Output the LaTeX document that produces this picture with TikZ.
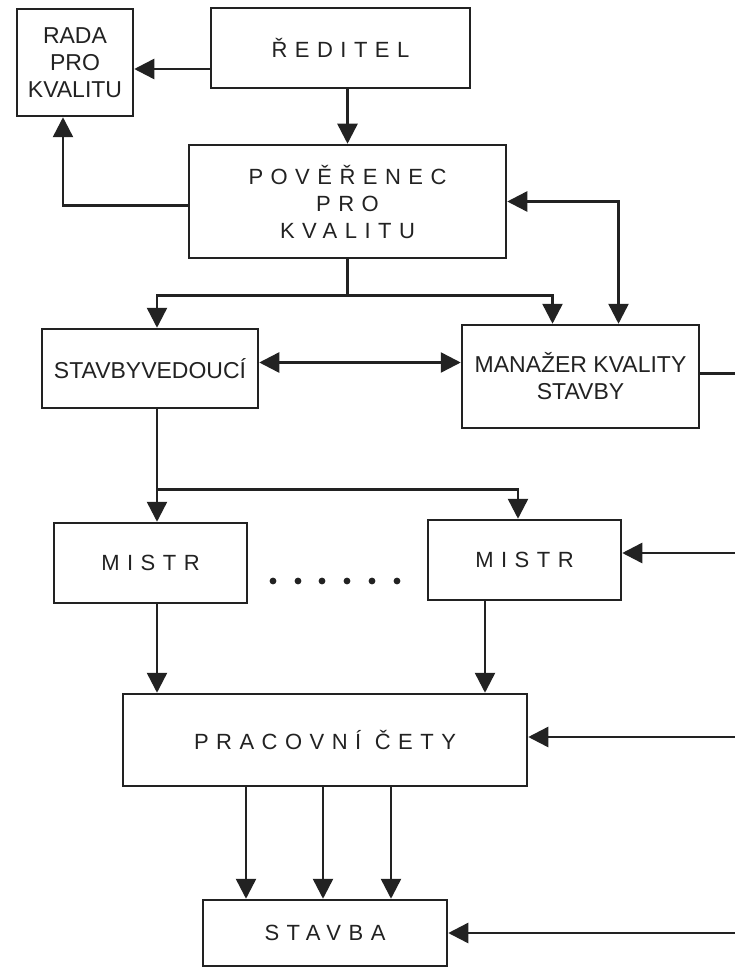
\documentclass[tikz,border=0pt]{standalone}
\usepackage{fontspec}
\usepackage{xcolor}
\usepackage{tikz}
\usetikzlibrary{arrows.meta}
\setmainfont{Liberation Sans}
\newfontfamily\rozpal[LetterSpace=34]{Liberation Sans}
\definecolor{inkoust}{HTML}{222222}

\begin{document}
\begin{tikzpicture}[x=1pt, y=-1pt, line width=2.5pt, color=inkoust,
    box/.style={draw, inner sep=0pt, align=center, font=\fontsize{23}{27}\selectfont},
    boxr/.style={box, font=\rozpal\fontsize{22}{27}\selectfont},
    arr/.style={-{Triangle[length=20pt, width=20pt]}},
    arrr/.style={{Triangle[length=20pt, width=20pt]}-{Triangle[length=20pt, width=20pt]}}]
        \useasboundingbox[fill=white] (0,0) rectangle (735,968);
        % Bloky
        \node[box, minimum width=116pt, minimum height=107pt] (rada) at (75,62.5) {RADA\\PRO\\KVALITU};
        \node[boxr, minimum width=259pt, minimum height=80pt] (reditel) at (340.5,48) {ŘEDITEL};
        \node[boxr, minimum width=317pt, minimum height=113pt] (poverenec) at (347.5,201.5) {POVĚŘENEC\\PRO\\KVALITU};
        \node[box, minimum width=216pt, minimum height=79pt] (stav) at (150,368.5) {STAVBYVEDOUCÍ};
        \node[box, minimum width=237pt, minimum height=103pt] (manazer) at (580.5,376.5) {MANAŽER KVALITY\\STAVBY};
        \node[boxr, minimum width=193pt, minimum height=80pt] (mistrA) at (150.5,563) {MISTR};
        \node[boxr, minimum width=193pt, minimum height=80pt] (mistrB) at (524.5,560) {MISTR};
        \node[boxr, minimum width=404pt, minimum height=92pt] (pracovni) at (325,740) {PRACOVNÍ ČETY};
        \node[boxr, minimum width=244pt, minimum height=66pt] (stavba) at (325,933) {STAVBA};
        % Okraj vpravo
        \coordinate (okraj) at (735,0);
        \coordinate (split1) at ([yshift=-36pt]poverenec.south);
        \coordinate (split2) at ([xshift=7pt, yshift=-80pt]stav.south);
        % Spojnice
        \draw[arr] ([yshift=-21pt]reditel.west) -- ([yshift=-21pt]reditel.west -| rada.east);
        \draw[arr] (reditel.south -| poverenec.north) -- (poverenec.north);
        \draw[arr] ([yshift=-4pt]poverenec.west) -| ([xshift=-12pt]rada.south);
        \draw[arrr] (poverenec.east) -| ([xshift=38pt]manazer.north);
        \draw (poverenec.south) -- (split1);
        \draw[arr] (split1) -| ([xshift=7pt]stav.north);
        \draw[arr] (split1) -| ([xshift=-28pt]manazer.north);
        \draw[arrr] ([yshift=6pt]stav.east) -- ([yshift=6pt]stav.east -| manazer.west);
        \draw ([yshift=3pt]manazer.east) -- ([yshift=3pt]manazer.east -| okraj);
        \draw ([xshift=7pt]stav.south) -- (split2);
        \draw[arr] (split2) -- (split2 |- mistrA.north);
        \draw[arr] (split2) -| ([xshift=-6.5pt]mistrB.north);
        \draw[arr] ([yshift=7pt]mistrB.east -| okraj) -- ([yshift=7pt]mistrB.east);
        % Tečky
        \foreach \x in {273,298,322,347,372,397}
            \fill (\x,581) circle (3.4pt);
        \draw[arr] ([xshift=6.5pt]mistrA.south) -- ([xshift=6.5pt]mistrA.south |- pracovni.north);
        \draw[arr] ([xshift=-39.5pt]mistrB.south) -- ([xshift=-39.5pt]mistrB.south |- pracovni.north);
        \draw[arr] ([yshift=3pt]pracovni.east -| okraj) -- ([yshift=3pt]pracovni.east);
        \foreach \dx in {-79,-2,66}
            \draw[arr] ([xshift=\dx pt]pracovni.south) -- ([xshift=\dx pt]stavba.north);
        \draw[arr] (stavba.east -| okraj) -- (stavba.east);
    \end{tikzpicture}
\end{document}
